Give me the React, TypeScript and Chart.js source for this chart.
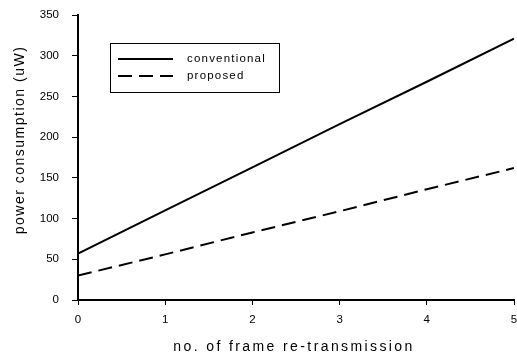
import React, { useEffect, useRef } from "react";
import { Chart, registerables } from "chart.js";

Chart.register(...registerables);

const retransmissions = [0, 1, 2, 3, 4, 5];
const conventional = [57, 110, 163, 216, 268, 321];
const proposed = [30, 56, 83, 109, 136, 162];
const seriesNames = ["conventional", "proposed"];
const xTitle = "no. of frame re-transmission";
const yTitle = "power consumption (uW)";

const FONT = "'Liberation Sans', Arial, sans-serif";

const overlayPlugin = {
  id: "overlay",
  afterDraw(chart: any) {
    const ctx = chart.ctx as CanvasRenderingContext2D;
    const area = chart.chartArea;
    ctx.save();
    ctx.fillStyle = "#000";
    ctx.strokeStyle = "#000";
    // axis titles
    ctx.font = `14px ${FONT}`;
    (ctx as any).letterSpacing = "2.4px";
    ctx.textAlign = "center";
    ctx.textBaseline = "middle";
    ctx.fillText(xTitle, (area.left + area.right) / 2 - 2, 347);
    ctx.save();
    ctx.translate(20, 140);
    ctx.rotate(-Math.PI / 2);
    (ctx as any).letterSpacing = "1.5px";
    ctx.fillText(yTitle, 0, 0);
    ctx.restore();
    // legend
    const bx = 110, by = 43, bw = 169, bh = 49;
    ctx.lineWidth = 1;
    ctx.strokeRect(bx + 0.5, by + 0.5, bw, bh);
    ctx.lineWidth = 2;
    ctx.beginPath();
    ctx.moveTo(118, 59);
    ctx.lineTo(173, 59);
    ctx.stroke();
    ctx.setLineDash([14, 7]);
    ctx.beginPath();
    ctx.moveTo(118, 76);
    ctx.lineTo(173, 76);
    ctx.stroke();
    ctx.setLineDash([]);
    ctx.font = `11.5px ${FONT}`;
    (ctx as any).letterSpacing = "1.2px";
    ctx.textAlign = "left";
    ctx.fillText(seriesNames[0], 187, 59);
    ctx.fillText(seriesNames[1], 187, 76);
    ctx.restore();
  },
};

export default function App() {
  const ref = useRef<HTMLCanvasElement | null>(null);
  useEffect(() => {
    document.body.style.margin = "0";
    const chart = new Chart(ref.current!, {
      type: "line",
      data: {
        labels: retransmissions,
        datasets: [
          {
            label: seriesNames[0],
            data: retransmissions.map((x, i) => ({ x, y: conventional[i] })),
            borderColor: "#000",
            borderWidth: 2,
            pointRadius: 0,
            tension: 0,
          },
          {
            label: seriesNames[1],
            data: retransmissions.map((x, i) => ({ x, y: proposed[i] })),
            borderColor: "#000",
            borderWidth: 2,
            borderDash: [14, 7],
            pointRadius: 0,
            tension: 0,
          },
        ],
      },
      options: {
        animation: false,
        responsive: false,
        layout: { padding: { left: 0, right: 3, top: 15, bottom: 0 } },
        plugins: { legend: { display: false }, tooltip: { enabled: false } },
        scales: {
          x: {
            type: "linear",
            min: 0,
            max: 5,
            grid: {
              display: true,
              drawOnChartArea: false,
              drawTicks: true,
              tickLength: 5,
              color: "#000",
            },
            border: { color: "#000", width: 2 },
            ticks: {
              stepSize: 1,
              color: "#000",
              font: { family: FONT, size: 11.5 },
              padding: 8,
              maxRotation: 0,
            },
            afterFit: (s: any) => {
              s.height = 54;
              s.paddingLeft = 0;
              s.paddingRight = 0;
            },
          },
          y: {
            min: 0,
            max: 350,
            grid: {
              display: true,
              drawOnChartArea: false,
              drawTicks: true,
              tickLength: 6,
              color: "#000",
            },
            border: { color: "#000", width: 2 },
            ticks: {
              stepSize: 50,
              color: "#000",
              font: { family: FONT, size: 11.5 },
              padding: 13,
            },
            afterFit: (s: any) => {
              s.width = 78;
              s.paddingTop = 0;
              s.paddingBottom = 0;
            },
          },
        },
      },
      plugins: [overlayPlugin],
    });
    return () => chart.destroy();
  }, []);
  return (
    <div style={{ width: 517, height: 354, background: "#fff" }}>
      <canvas ref={ref} width={517} height={354} />
    </div>
  );
}
